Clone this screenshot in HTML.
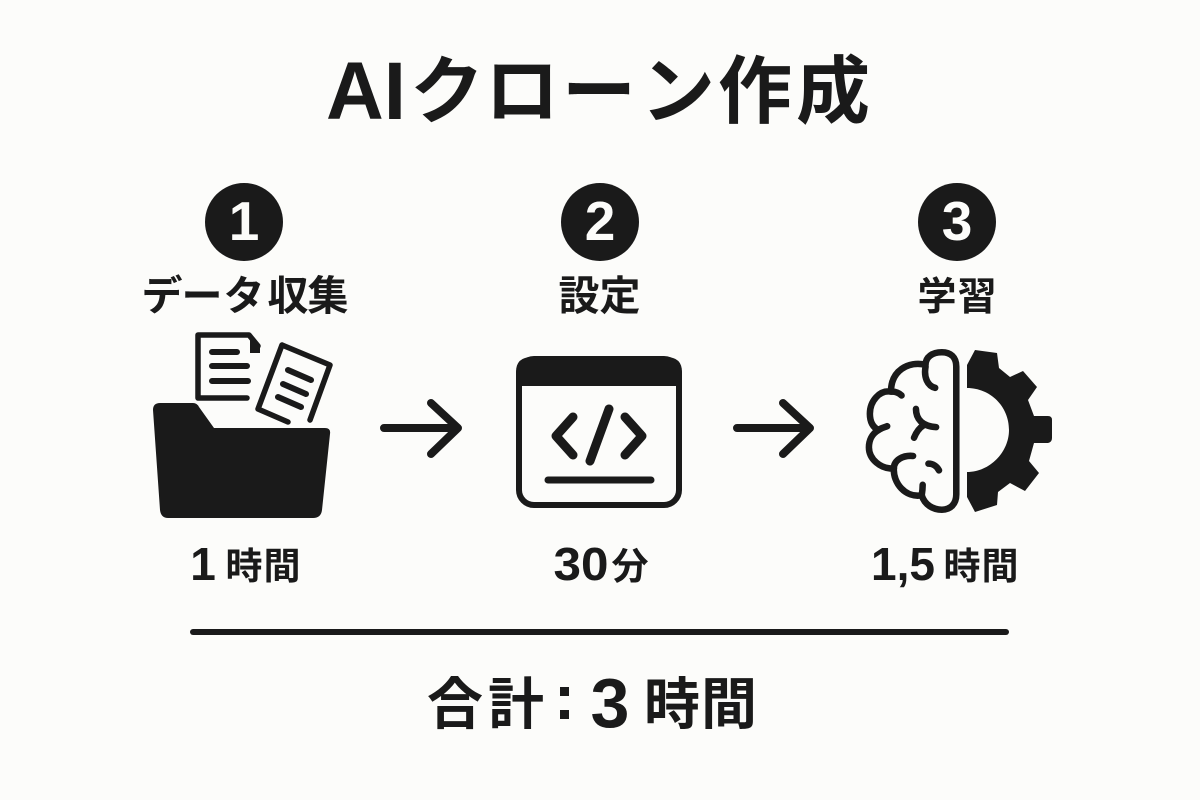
<!DOCTYPE html>
<html lang="ja"><head><meta charset="utf-8"><style>
html,body{margin:0;padding:0;background:#fcfcfa}
svg{display:block}
text{font-family:"Noto Sans CJK JP",sans-serif;font-weight:700;fill:#1a1a1a;text-anchor:middle}
text.l{font-family:"Liberation Sans",sans-serif}
</style></head><body>
<svg width="1200" height="800" viewBox="0 0 1200 800" xmlns="http://www.w3.org/2000/svg">
<rect width="1200" height="800" fill="#fcfcfa"/>
<text class="l" x="366" y="119" font-size="82" textLength="80" lengthAdjust="spacingAndGlyphs">AI</text>
<text x="447 522 599 678 755 833" y="117" font-size="74">クローン作成</text>
<circle cx="244" cy="222" r="39" fill="#1a1a1a"/><circle cx="600" cy="222" r="39" fill="#1a1a1a"/><circle cx="957" cy="222" r="39" fill="#1a1a1a"/>
<text class="l" x="244" y="240" font-size="55" style="fill:#fcfcfa">1</text>
<text class="l" x="600" y="240" font-size="55" style="fill:#fcfcfa">2</text>
<text class="l" x="957" y="240" font-size="55" style="fill:#fcfcfa">3</text>
<text x="162 202 244 288 328" y="310" font-size="41">データ収集</text>
<text x="579 620" y="310" font-size="41">設定</text>
<text x="937 977" y="310" font-size="39">学習</text>
<text class="l" x="203" y="580" font-size="46">1</text>
<text x="244 282" y="579" font-size="37">時間</text>
<text class="l" x="581" y="580" font-size="46" textLength="55" lengthAdjust="spacingAndGlyphs">30</text>
<text x="630" y="579" font-size="37">分</text>
<text class="l" x="903" y="580" font-size="46">1,5</text>
<text x="962 1000" y="579" font-size="37">時間</text>
<line x1="193" y1="632" x2="1006" y2="632" stroke="#1a1a1a" stroke-width="6" stroke-linecap="round"/>
<text x="455 516" y="724" font-size="56">合計</text>
<rect x="560" y="687" width="9" height="9" fill="#1a1a1a"/><rect x="560" y="710" width="9" height="9" fill="#1a1a1a"/>
<text class="l" x="610" y="727" font-size="70">3</text>
<text x="672 729" y="724" font-size="56">時間</text>

<!-- folder icon -->
<g fill="none" stroke="#1a1a1a" stroke-linecap="round" stroke-linejoin="round">
<path d="M247 398H198V335H249L258 346" stroke-width="5.5"/>
<path d="M212 352H237M212 366H247M212 381H248" stroke-width="6"/>
<path d="M282 345L330 365L310 420M288 422L258 409L282 345" stroke-width="5.5"/>
<path d="M288 370L311 380M283 384L306 394M278 397L301 407" stroke-width="6"/>
</g>
<path d="M250 333L260 346V353H250Z" fill="#1a1a1a"/>
<path d="M160 403H193Q197 403 199 407L214 428H325Q331 428 330 434L322 510Q321 518 313 518H168Q161 518 160 510L153 410Q153 403 160 403Z" fill="#1a1a1a"/>

<!-- code window icon -->
<rect x="519" y="359" width="160" height="146" rx="15" fill="none" stroke="#1a1a1a" stroke-width="6"/>
<path d="M516 386V372Q516 357 532 357H666Q682 357 682 372V386Z" fill="#1a1a1a"/>
<g fill="none" stroke="#1a1a1a" stroke-width="9" stroke-linecap="round" stroke-linejoin="round">
<path d="M573 417L556 436L573 455M625 417L642 436L625 455M609 409L590 461"/>
<path d="M548 480H651" stroke-width="7"/>
</g>

<!-- arrows -->
<g fill="none" stroke="#1a1a1a" stroke-width="8" stroke-linecap="round" stroke-linejoin="round">
<path d="M384 428H457M431 403L458 428L431 454"/>
<path d="M737 428H809M783 403L810 428L783 454"/>
</g>

<!-- brain -->
<g transform="translate(915 431) scale(.96) translate(-915 -431)" fill="none" stroke="#1a1a1a" stroke-width="6.8" stroke-linecap="round" stroke-linejoin="round">
<path d="M958 364C958 354 952 349 943 349C933 349 926 354 926 362C908 358 890 368 890 390C878 388 868 400 868 413C868 421 871 427 877 430C870 434 867 441 867 448C867 460 879 471 893 470C892 485 905 501 922 498C925 508 934 513 943 513C952 513 958 507 958 497Z"/>
<path d="M926 364C924 375 928 384 936 386M891 390C896 390 899 392 901 394M877 430C881 427 884 427 886 426M893 470C893 461 903 456 913 457M922 498C923 492 923 490 923 487M929 465C934 465 938 468 940 472"/>
<path d="M916 408C916 418 922 426 937 427M924 425C919 428 916 433 914 438"/>
</g>
<!-- gear -->
<path d="M967 365L975 350L997 353L999 368L1010 377L1023 371L1037 387L1028 400L1034 416H1048Q1052 416 1052 420V438Q1052 442 1048 443H1034L1029 461L1039 473L1025 491L1010 483L998 492L997 505L975 512L967 497V472C990 472 1009 452 1009 430C1009 406 990 388 967 388Z" fill="#1a1a1a"/>
</svg>
</body></html>
